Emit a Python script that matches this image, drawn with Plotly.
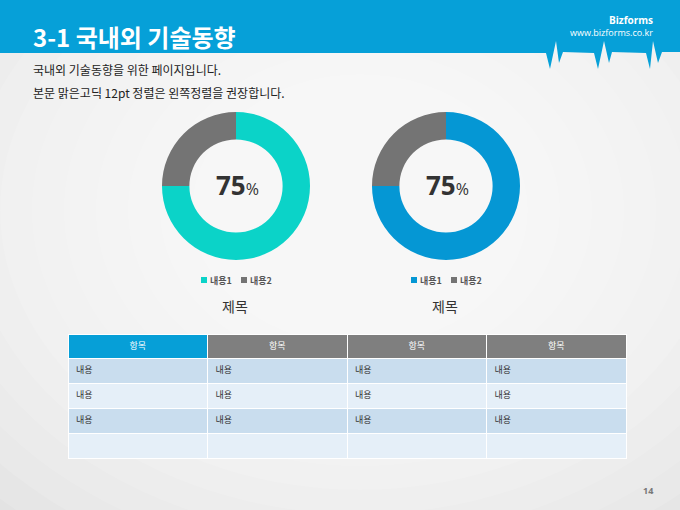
import plotly.graph_objects as go

W, H = 680, 510

# ---- data ----
pie_labels = ["내용1", "내용2"]
pie_values = [75, 25]
pie_titles = ["제목", "제목"]
pie_colors = [["#0bd3c8", "#747474"], ["#0597d4", "#747474"]]
pie_centers = [236, 446]

table_header = ["항목", "항목", "항목", "항목"]
table_rows = [
    ["내용", "내용", "내용", "내용"],
    ["내용", "내용", "내용", "내용"],
    ["내용", "내용", "내용", "내용"],
    ["", "", "", ""],
]

title_text = "3-1 국내외 기술동향"
sub_lines = ["국내외 기술동향을 위한 페이지입니다.",
             "본문 맑은고딕 12pt 정렬은 왼쪽정렬을 권장합니다."]
page_no = "14"

FONT = "Noto Sans CJK KR"


def px(x):
    return x / W


def py(y):
    return 1 - y / H


fig = go.Figure()
shapes = []
annotations = []

# soft radial-ish background (many faint layers so no visible rings)
for i in range(12):
    rx = 520 - i * 32
    ry = 400 - i * 24
    cx, cy = 360, 210
    shapes.append(dict(type="circle", xref="paper", yref="paper",
                       x0=px(cx - rx), x1=px(cx + rx), y0=py(cy + ry), y1=py(cy - ry),
                       fillcolor="white", opacity=0.12, line=dict(width=0), layer="below"))

# header band with pulse line
pts = [(0, 0), (680, 0), (680, 52), (662, 52), (658, 63), (653, 41), (650, 69),
       (646, 53), (612, 52), (609, 63), (604, 41), (598, 69), (594, 53),
       (563, 52), (559, 63), (556, 41), (550, 69), (546, 53), (0, 53)]
path = "M " + " L ".join(f"{px(x):.5f},{py(y):.5f}" for x, y in pts) + " Z"
shapes.append(dict(type="path", xref="paper", yref="paper", path=path,
                   fillcolor="#06a0d8", line=dict(width=0), layer="below"))

annotations.append(dict(x=px(31), y=py(37), xref="paper", yref="paper", xanchor="left",
                        yanchor="middle", showarrow=False, text=f"<b>{title_text}</b>",
                        font=dict(family=FONT, size=24, color="white")))
annotations.append(dict(x=px(655), y=py(20), xref="paper", yref="paper", xanchor="right",
                        yanchor="middle", showarrow=False, text="<b>Bizforms</b>",
                        font=dict(family="Open Sans", size=10, color="white")))
annotations.append(dict(x=px(655), y=py(33), xref="paper", yref="paper", xanchor="right",
                        yanchor="middle", showarrow=False, text="www.bizforms.co.kr",
                        font=dict(family="Open Sans", size=9, color="white")))
for i, line in enumerate(sub_lines):
    annotations.append(dict(x=px(31), y=py(70 + i * 22), xref="paper", yref="paper",
                            xanchor="left", yanchor="middle", showarrow=False, text=line,
                            font=dict(family=FONT, size=12, color="#222222")))

# donuts
R = 74
CY = 186
for k, cx in enumerate(pie_centers):
    fig.add_trace(go.Pie(
        labels=pie_labels, values=pie_values, hole=0.63, sort=False,
        direction="clockwise", rotation=0, textinfo="none",
        marker=dict(colors=pie_colors[k], line=dict(width=0)),
        domain=dict(x=[px(cx - R), px(cx + R)], y=[py(CY + R), py(CY - R)]),
        showlegend=False, hoverinfo="label+percent"))
    annotations.append(dict(x=px(cx + 1), y=py(CY - 1), xref="paper", yref="paper",
                            showarrow=False, xanchor="center", yanchor="middle",
                            text=f"<b>{pie_values[0]}</b><span style='font-size:16px'>%</span>",
                            font=dict(family="Open Sans", size=26, color="#333333")))
    # legend entries
    lx = cx - 35
    for j, lab in enumerate(pie_labels):
        sx = lx + j * 40
        shapes.append(dict(type="rect", xref="paper", yref="paper",
                           x0=px(sx), x1=px(sx + 6), y0=py(283), y1=py(277),
                           fillcolor=pie_colors[k][j], line=dict(width=0)))
        annotations.append(dict(x=px(sx + 7), y=py(280), xref="paper", yref="paper",
                                showarrow=False, xanchor="left", yanchor="middle",
                                text=f"<b>{lab}</b>",
                                font=dict(family=FONT, size=9, color="#555555")))
    annotations.append(dict(x=px(cx - 1), y=py(306), xref="paper", yref="paper",
                            showarrow=False, xanchor="center", yanchor="middle",
                            text=pie_titles[k],
                            font=dict(family=FONT, size=14, color="#333333")))

# table
row_colors = ["#c9ddee" if i % 2 == 0 else "#e5eff8" for i in range(len(table_rows))]
columns = [[r[c] for r in table_rows] for c in range(len(table_header))]
fig.add_trace(go.Table(
    domain=dict(x=[px(68), px(626)], y=[py(462), py(334)]),
    header=dict(values=table_header, height=24, align="center",
                fill_color=["#069fd7", "#7f7f7f", "#7f7f7f", "#7f7f7f"],
                line=dict(color="white", width=1),
                font=dict(family=FONT, size=9, color="white")),
    cells=dict(values=columns, height=25, align="left",
               fill_color=[row_colors] * len(table_header),
               line=dict(color="white", width=1),
               font=dict(family=FONT, size=9, color="#333333")),
))

annotations.append(dict(x=px(648), y=py(490), xref="paper", yref="paper", showarrow=False,
                        xanchor="center", yanchor="middle", text=f"<b>{page_no}</b>",
                        font=dict(family="Open Sans", size=9, color="#777777")))

fig.update_layout(
    width=W, height=H, margin=dict(l=0, r=0, t=0, b=0),
    paper_bgcolor="#e3e3e3", plot_bgcolor="rgba(0,0,0,0)",
    shapes=shapes, annotations=annotations, showlegend=False,
)
fig.write_html("out.html", config={"displayModeBar": False},
               post_script="document.body.style.margin='0';")
